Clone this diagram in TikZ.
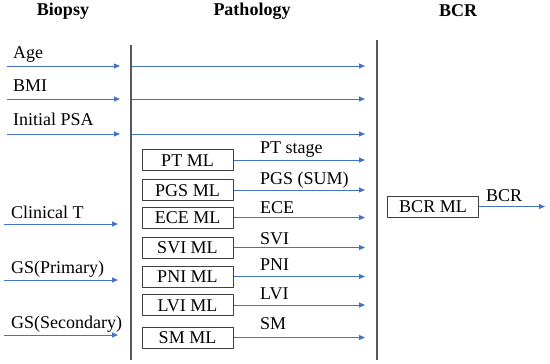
\documentclass[tikz,border=0pt]{standalone}
\usepackage{fontspec}
\setmainfont{Liberation Serif}
\newfontfamily\tms{Liberation Serif}
\usetikzlibrary{arrows.meta,positioning}
\definecolor{Flow}{HTML}{4472C4}
\definecolor{Rule}{HTML}{595959}
\definecolor{Frame}{HTML}{3F3F3F}
\tikzset{
  head/.style={font=\tms\fontsize{18}{20}\selectfont\bfseries,inner sep=0pt},
  lbl/.style={font=\tms\fontsize{18}{20}\selectfont,anchor=west,inner sep=0pt,text height=12pt,text depth=0pt},
  mlbox/.style={draw=Frame,line width=1pt,minimum width=91pt,minimum height=21pt,inner sep=0pt,text height=12pt,text depth=0pt,font=\tms\fontsize{18}{20}\selectfont},
  arr/.style={-{Triangle[length=6pt,width=5pt]},line width=0.9pt,draw=Flow},
  bar/.style={draw=Rule,line width=1.5pt},
}
\begin{document}
\begin{tikzpicture}[x=1pt,y=-1pt,line join=round]
\useasboundingbox (0,0) rectangle (550,364);
% stage headings
\node[head] (biopsy) at (63,11) {Biopsy};
\node[head] (patho) at (252,11) {Pathology};
\node[head] (bcrhead) at (458,11) {BCR};
% stage separators
\coordinate (s1top) at (131,45); \coordinate (s1bot) at (131,360);
\coordinate (s2top) at (377,40); \coordinate (s2bot) at (377,360);
\draw[bar] (s1top)--(s1bot) (s2top)--(s2bot);
% biopsy inputs
\node[lbl] (age) at (13,52) {Age};
\node[lbl] (bmi) at (13,86) {BMI};
\node[lbl] (psa) at (13,119) {Initial PSA};
\node[lbl] (clint) at (11,212) {Clinical T};
\node[lbl] (gsp) at (11,267) {GS(Primary)};
\node[lbl] (gss) at (11,322) {GS(Secondary)};
\coordinate (age0) at (7,66); \coordinate (age1) at (120,66);
\coordinate (bmi0) at (7,99); \coordinate (bmi1) at (120,99);
\coordinate (psa0) at (7,134); \coordinate (psa1) at (120,134);
\coordinate (clint0) at (4,224); \coordinate (clint1) at (118,224);
\coordinate (gsp0) at (4,280); \coordinate (gsp1) at (118,280);
\coordinate (gss0) at (4,335); \coordinate (gss1) at (118,335);
\draw[arr] (age0)--(age1);
\draw[arr] (bmi0)--(bmi1);
\draw[arr] (psa0)--(psa1);
\draw[arr] (clint0)--(clint1);
\draw[arr] (gsp0)--(gsp1);
\draw[arr] (gss0)--(gss1);
% pass-through to BCR stage
\coordinate (age2) at (132,66); \coordinate (age3) at (365,66);
\coordinate (bmi2) at (132,99); \coordinate (bmi3) at (365,99);
\coordinate (psa2) at (132,134); \coordinate (psa3) at (365,134);
\draw[arr] (age2)--(age3);
\draw[arr] (bmi2)--(bmi3);
\draw[arr] (psa2)--(psa3);
% pathology models
\node[mlbox] (ptml) at (187.5,160) {PT ML};
\node[mlbox] (pgsml) at (187.5,190) {PGS ML};
\node[mlbox] (eceml) at (187.5,217.5) {ECE ML};
\node[mlbox] (sviml) at (187.5,247.5) {SVI ML};
\node[mlbox] (pniml) at (187.5,276.5) {PNI ML};
\node[mlbox] (lviml) at (187.5,305) {LVI ML};
\node[mlbox] (smml) at (187.5,337.5) {SM ML};
\coordinate (ptout) at (365,160);
\coordinate (pgsout) at (365,190);
\coordinate (eceout) at (365,217.5);
\coordinate (sviout) at (365,247.5);
\coordinate (pniout) at (365,276.5);
\coordinate (lviout) at (365,305);
\coordinate (smout) at (365,337.5);
\draw[arr] (ptml.east)--(ptout);
\draw[arr] (pgsml.east)--(pgsout);
\draw[arr] (eceml.east)--(eceout);
\draw[arr] (sviml.east)--(sviout);
\draw[arr] (pniml.east)--(pniout);
\draw[arr] (lviml.east)--(lviout);
\draw[arr] (smml.east)--(smout);
\node[lbl] (ptlbl) at (260,147) {PT stage};
\node[lbl] (pgslbl) at (260,178) {PGS (SUM)};
\node[lbl] (ecelbl) at (260,207) {ECE};
\node[lbl] (svilbl) at (260,238) {SVI};
\node[lbl] (pnilbl) at (260,264) {PNI};
\node[lbl] (lvilbl) at (260,293) {LVI};
\node[lbl] (smlbl) at (260,323) {SM};
% recurrence model
\node[mlbox] (bcrml) at (433,206.5) {BCR ML};
\coordinate (bcrout) at (545,206.5);
\draw[arr] (bcrml.east)--(bcrout);
\node[lbl] (bcrlbl) at (486,195) {BCR};
\end{tikzpicture}
\end{document}
